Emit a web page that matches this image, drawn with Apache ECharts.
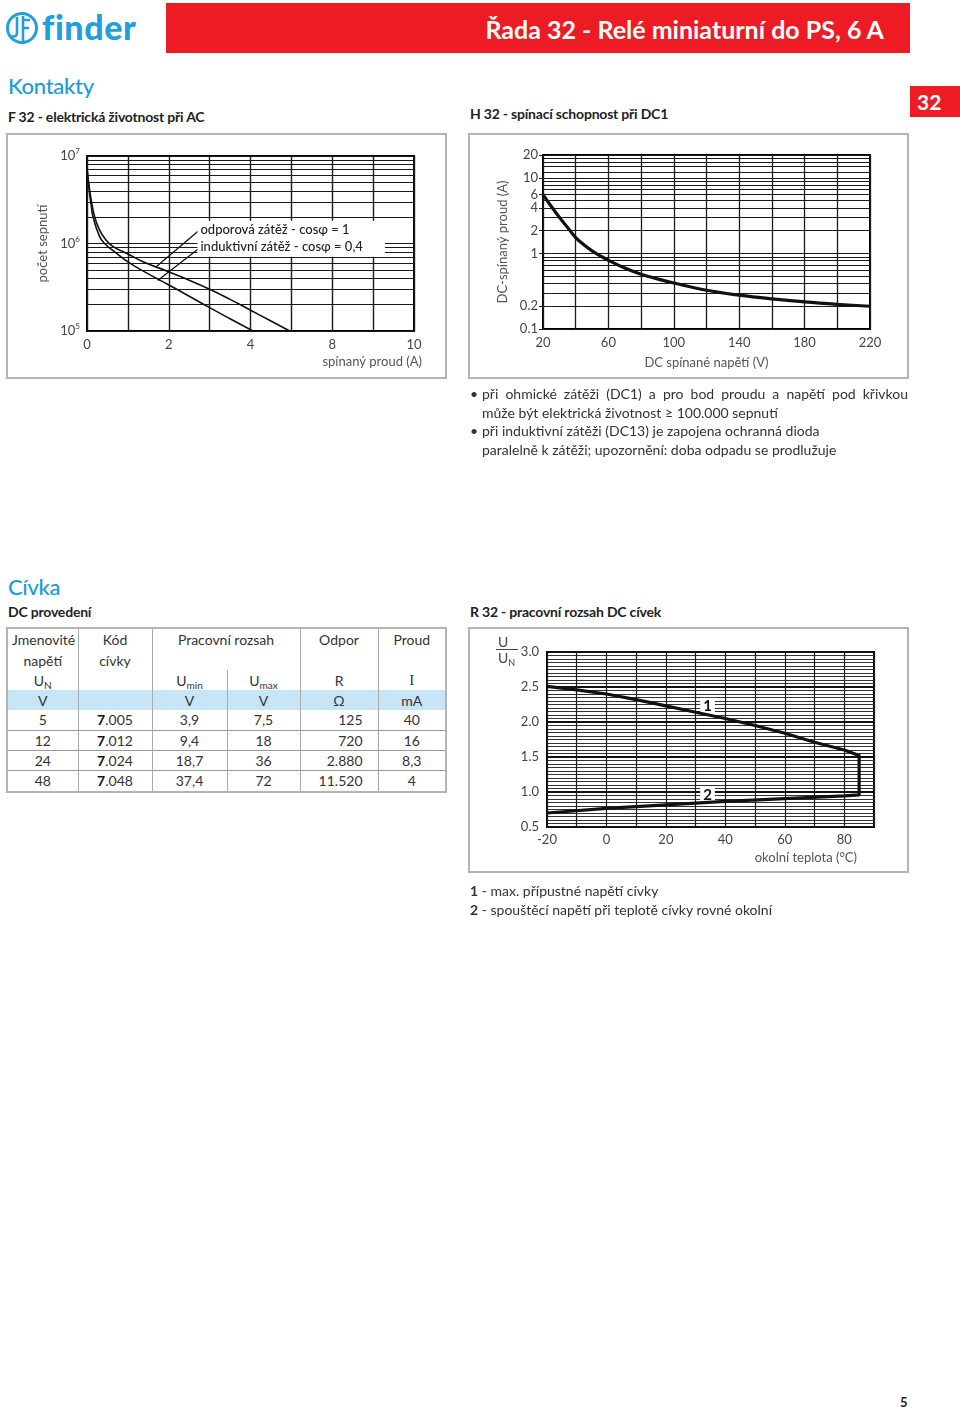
<!DOCTYPE html>
<html><head><meta charset="utf-8">
<script src="https://cdn.jsdelivr.net/npm/echarts@6/dist/echarts.min.js"></script>
<style>
html,body{margin:0;padding:0;background:#fff;}
body{width:960px;height:1409px;position:relative;overflow:hidden;font-family:Lato,"Noto Sans",sans-serif;color:#333;}
.abs{position:absolute;}
.box{position:absolute;border:2px solid #b4b4b4;box-sizing:border-box;pointer-events:none;}
.h2{position:absolute;font-size:22px;color:#1b9cd8;font-weight:500;letter-spacing:-0.3px;}
.h3{position:absolute;font-size:14px;font-weight:700;color:#222;letter-spacing:-0.2px;}
.chart{position:absolute;}
table{border-collapse:collapse;table-layout:fixed;font-size:14px;color:#333;}
td{padding:0;text-align:center;white-space:nowrap;overflow:visible;}
sub{font-size:10px;vertical-align:-3px;line-height:0;}
</style></head>
<body>
<!-- logo -->
<svg class="abs" style="left:5px;top:11px" width="34" height="34" viewBox="0 0 34 34">
 <circle cx="17" cy="17" r="14.5" fill="none" stroke="#1fa0dc" stroke-width="3"/>
 <path d="M12 6 V21 Q12 27 7 25" fill="none" stroke="#1fa0dc" stroke-width="2.6"/>
 <path d="M18 5 V30 M18 9 H25 M18 17 H24" fill="none" stroke="#1fa0dc" stroke-width="2.6"/>
</svg>
<div class="abs" style="left:42px;top:6px;font-size:34px;font-weight:900;color:#1fa0dc;letter-spacing:0.6px;">finder</div>
<!-- red header -->
<div class="abs" style="left:166px;top:3px;width:744px;height:50px;background:#ed1c24;"></div>
<div class="abs" style="left:166px;top:3px;width:718px;height:50px;line-height:52px;text-align:right;color:#fff;font-size:25px;font-weight:700;">Řada 32 - Relé miniaturní do PS, 6 A</div>
<div class="abs" style="left:910px;top:86px;width:50px;height:31px;background:#ed1c24;color:#fff;font-size:21px;font-weight:700;line-height:32px;text-indent:7px;">32</div>

<div class="h2" style="left:8px;top:72px;">Kontakty</div>
<div class="h3" style="left:8px;top:108px;">F 32 - elektrická životnost při AC</div>
<div class="h3" style="left:470px;top:105px;">H 32 - spínací schopnost při DC1</div>

<div id="f32" class="chart" style="left:6px;top:133px;width:441px;height:246px;"></div>
<div class="box" style="left:6px;top:133px;width:441px;height:246px;"></div>
<div id="h32" class="chart" style="left:468px;top:133px;width:441px;height:246px;"></div>
<div class="box" style="left:468px;top:133px;width:441px;height:246px;"></div>

<div class="abs" style="left:470px;top:385px;width:438px;font-size:14px;line-height:18.6px;color:#333;">
 <div style="text-align:justify;text-align-last:justify;"><span style="display:inline-block;width:12px;">•</span>při ohmické zátěži (DC1) a pro bod proudu a napětí pod křivkou</div>
 <div style="padding-left:12px;">může být elektrická životnost ≥ 100.000 sepnutí</div>
 <div><span style="display:inline-block;width:12px;">•</span>při induktivní zátěži (DC13) je zapojena ochranná dioda</div>
 <div style="padding-left:12px;">paralelně k zátěži; upozornění: doba odpadu se prodlužuje</div>
</div>

<div class="h2" style="left:8px;top:573px;">Cívka</div>
<div class="h3" style="left:8px;top:603px;">DC provedení</div>
<div class="h3" style="left:470px;top:603px;">R 32 - pracovní rozsah DC cívek</div>

<div id="tblwrap" class="abs" style="left:6px;top:627px;width:441px;height:166px;border:2px solid #b4b4b4;box-sizing:border-box;"></div>

<div id="r32" class="chart" style="left:468px;top:627px;width:441px;height:246px;"></div>
<div class="box" style="left:468px;top:627px;width:441px;height:246px;"></div>
<div class="abs" style="left:496px;top:634px;font-size:14px;color:#444;line-height:15px;text-align:left;">
 <div style="border-bottom:1px solid #444;width:20px;padding-left:2px;">U</div>
 <div style="padding-left:2px;">U<sub style="font-size:9px;">N</sub></div>
</div>

<div class="abs" style="left:470px;top:881px;font-size:14px;line-height:19px;color:#333;">
 <div><b>1</b> - max. přípustné napětí cívky</div>
 <div><b>2</b> - spouštěcí napětí při teplotě cívky rovné okolní</div>
</div>
<div class="abs" style="left:900px;top:1394px;font-size:13px;font-weight:700;color:#222;">5</div>

<script>
// ---------- DATA ----------
// F 32: x in grid units (tick labels as printed on the chart)
const fXTickLabels = ['0', '', '2', '', '4', '', '8', '', '10'];
const fResistive = [[0, 7.2e6], [0.05, 4.6e6], [0.1, 3.2e6], [0.19, 2.0e6], [0.3, 1.45e6], [0.45, 1.12e6], [0.64, 9.2e5], [1.0, 7.6e5], [1.4, 6.1e5], [1.98, 4.8e5], [2.5, 3.8e5], [3.0, 3.0e5], [3.5, 2.3e5], [3.98, 1.75e5], [4.5, 1.3e5], [4.96, 1.0e5]];
const fInductive = [[0, 7.2e6], [0.05, 4.2e6], [0.1, 2.8e6], [0.15, 2.0e6], [0.31, 1.2e6], [0.45, 9.8e5], [0.64, 8.3e5], [1.04, 6.0e5], [1.5, 4.5e5], [1.98, 3.4e5], [2.5, 2.5e5], [3.0, 1.85e5], [3.5, 1.38e5], [4.06, 1.0e5]];
const fMinorY = [2e5, 3e5, 4e5, 5e5, 6e5, 7e5, 8e5, 9e5, 2e6, 3e6, 4e6, 5e6, 6e6, 7e6, 8e6, 9e6];
const fLegend = ['odporová zátěž - cosφ = 1', 'induktivní zátěž - cosφ = 0,4'];

// H 32
const hCurve = [[20, 6.0], [25, 4.2], [30, 3.0], [35, 2.2], [40, 1.62], [45, 1.3], [50, 1.08], [55, 0.93], [60, 0.81], [70, 0.64], [80, 0.53], [90, 0.46], [100, 0.405], [120, 0.325], [140, 0.28], [160, 0.25], [180, 0.228], [200, 0.212], [220, 0.2]];
const hYTickLabels = [0.1, 0.2, 1, 2, 4, 6, 10, 20];
const hXTickLabels = [20, 60, 100, 140, 180, 220];
const hMinorY = [0.2, 0.3, 0.4, 0.5, 0.6, 0.7, 0.8, 0.9, 2, 3, 4, 5, 6, 7, 8, 9, 12, 14, 16, 18];

// R 32
const rCurve = [[-20, 2.51], [-10, 2.46], [0, 2.40], [10, 2.32], [20, 2.23], [30, 2.14], [40, 2.05], [50, 1.95], [60, 1.84], [70, 1.71], [80, 1.60], [85, 1.52], [85, 0.96], [80, 0.945], [60, 0.905], [40, 0.865], [20, 0.815], [0, 0.765], [-20, 0.70]];
const rXTickLabels = [-20, 0, 20, 40, 60, 80];
const rCurveLabels = [['1', 34, 2.23], ['2', 34, 0.96]];

// Table
const tableRows = [
  ['5', '7.005', '3,9', '7,5', '125', '40'],
  ['12', '7.012', '9,4', '18', '720', '16'],
  ['24', '7.024', '18,7', '36', '2.880', '8,3'],
  ['48', '7.048', '37,4', '72', '11.520', '4']
];

// ---------- RENDER ----------
const FF = 'Lato, "Noto Sans", sans-serif';
const base = {fontFamily: FF};

// F32
(function () {
  const c = echarts.init(document.getElementById('f32'));
  c.setOption({
    animation: false,
    textStyle: base,
    grid: {left: 81, top: 23, width: 327, height: 175, show: true, borderColor: '#000', borderWidth: 2, backgroundColor: 'transparent', outerBoundsMode: 'none'},
    xAxis: {
      type: 'value', min: 0, max: 8, interval: 1,
      axisLine: {show: false}, axisTick: {show: false},
      splitLine: {show: true, lineStyle: {color: '#1a1a1a', width: 1.4}},
      axisLabel: {formatter: v => fXTickLabels[Math.round(v)] || '', margin: 7.5, color: '#444', fontSize: 13, fontFamily: FF, showMinLabel: true, showMaxLabel: true, hideOverlap: false},
      name: 'spínaný proud (A)', nameLocation: 'end', nameGap: 8,
      nameTextStyle: {align: 'right', verticalAlign: 'top', padding: [24, 0, 0, 0], color: '#555', fontSize: 13, fontFamily: FF}
    },
    yAxis: {
      type: 'log', logBase: 10, min: 1e5, max: 1e7,
      axisLine: {show: false}, axisTick: {show: false},
      splitLine: {show: true, lineStyle: {color: '#1a1a1a', width: 1}},
      axisLabel: {
        margin: 7, color: '#444', fontSize: 13, fontFamily: FF,
        formatter: v => '10{s|' + Math.round(Math.log10(v)) + '}',
        rich: {s: {fontSize: 8, padding: [0, 0, 9, 0], color: '#444', fontFamily: FF}}
      },
      name: 'počet sepnutí', nameLocation: 'middle', nameRotate: 90, nameGap: 38,
      nameTextStyle: {color: '#555', fontSize: 13, fontFamily: FF}
    },
    series: [
      {type: 'line', data: [], z: 1, silent: true,
        markLine: {silent: true, symbol: ['none', 'none'], label: {show: false}, animation: false,
          lineStyle: {type: 'solid', color: '#1a1a1a', width: 1}, emphasis: {disabled: true},
          data: fMinorY.map(v => ({yAxis: v}))}},
      {type: 'line', name: fLegend[0], data: fResistive, smooth: 0.5, symbol: 'none', z: 5,
        lineStyle: {color: '#111', width: 1.6}},
      {type: 'line', name: fLegend[1], data: fInductive, smooth: 0.5, symbol: 'none', z: 5,
        lineStyle: {color: '#111', width: 1.6},
        markLine: {silent: true, symbol: ['none', 'arrow'], symbolSize: [0, 9], label: {show: false}, animation: false,
          lineStyle: {type: 'solid', color: '#111', width: 1.3}, emphasis: {disabled: true},
          data: [
            [{coord: [2.76, 1.44e6]}, {coord: [1.70, 5.45e5]}],
            [{coord: [2.76, 8.96e5]}, {coord: [1.73, 3.77e5]}]
          ]}},
      {type: 'line', data: [], z: 6, silent: true,
        markPoint: {silent: true, animation: false, symbol: 'rect', symbolSize: 1, itemStyle: {color: 'rgba(0,0,0,0)'},
          data: [{coord: [2.69, 1.135e6],
            label: {show: true, position: 'right', distance: 0, formatter: fLegend.join('\n'),
              backgroundColor: '#fff', padding: [1, 22, 1, 3], lineHeight: 17, fontSize: 13, fontWeight: 500, color: '#222', fontFamily: FF}}]}}
    ]
  });
})();

// H32
(function () {
  const c = echarts.init(document.getElementById('h32'));
  c.setOption({
    animation: false,
    textStyle: base,
    grid: {left: 75, top: 22, width: 327, height: 174, show: true, borderColor: '#000', borderWidth: 2, backgroundColor: 'transparent', outerBoundsMode: 'none'},
    xAxis: {
      type: 'value', min: 20, max: 220, interval: 20,
      axisLine: {show: false}, axisTick: {show: false},
      splitLine: {show: true, lineStyle: {color: '#1a1a1a', width: 1.3}},
      axisLabel: {customValues: hXTickLabels, margin: 7.5, color: '#444', fontSize: 13, fontFamily: FF, hideOverlap: false},
      name: 'DC spínané napětí (V)', nameLocation: 'middle', nameGap: 27,
      nameTextStyle: {color: '#555', fontSize: 13, fontFamily: FF}
    },
    yAxis: {
      type: 'log', logBase: 10, min: 0.1, max: 20,
      axisLine: {show: false},
      axisTick: {show: true, customValues: hYTickLabels, inside: false, length: 4, lineStyle: {color: '#222'}},
      splitLine: {show: true, lineStyle: {color: '#1a1a1a', width: 1}},
      axisLabel: {customValues: hYTickLabels, margin: 5, color: '#444', fontSize: 13, fontFamily: FF, hideOverlap: false,
        formatter: v => String(v)},
      name: 'DC-spínaný proud (A)', nameLocation: 'middle', nameRotate: 90, nameGap: 33,
      nameTextStyle: {color: '#555', fontSize: 13, fontFamily: FF}
    },
    series: [
      {type: 'line', data: [], z: 1, silent: true,
        markLine: {silent: true, symbol: ['none', 'none'], label: {show: false}, animation: false,
          lineStyle: {type: 'solid', color: '#1a1a1a', width: 1}, emphasis: {disabled: true},
          data: hMinorY.map(v => ({yAxis: v}))}},
      {type: 'line', data: hCurve, smooth: 0.4, symbol: 'none', z: 5, lineStyle: {color: '#111', width: 3.2}}
    ]
  });
})();

// R32
(function () {
  const c = echarts.init(document.getElementById('r32'));
  c.setOption({
    animation: false,
    textStyle: base,
    grid: {left: 79, top: 25, width: 327, height: 175, show: true, borderColor: '#000', borderWidth: 2, backgroundColor: 'transparent', outerBoundsMode: 'none'},
    xAxis: {
      type: 'value', min: -20, max: 90, interval: 10,
      axisLine: {show: false}, axisTick: {show: false},
      splitLine: {show: true, lineStyle: {color: '#1a1a1a', width: 1.2}},
      axisLabel: {customValues: rXTickLabels, margin: 6.5, color: '#444', fontSize: 13, fontFamily: FF, hideOverlap: false},
      name: 'okolní teplota (°C)', nameLocation: 'end', nameGap: -17,
      nameTextStyle: {align: 'right', verticalAlign: 'top', padding: [24, 0, 0, 0], color: '#555', fontSize: 13, fontFamily: FF}
    },
    yAxis: {
      type: 'value', min: 0.5, max: 3.0, interval: 0.5,
      axisLine: {show: false}, axisTick: {show: false},
      splitLine: {show: true, lineStyle: {color: '#111', width: 2}},
      minorTick: {show: false, splitNumber: 10},
      minorSplitLine: {show: true, lineStyle: {color: '#333', width: 1}},
      axisLabel: {margin: 8, color: '#444', fontSize: 13, fontFamily: FF, formatter: v => v.toFixed(1), hideOverlap: false}
    },
    series: [
      {type: 'line', data: rCurve, smooth: false, symbol: 'none', z: 5, lineStyle: {color: '#111', width: 3.2, join: 'round'},
        markPoint: {silent: true, animation: false, symbol: 'rect', symbolSize: 1, itemStyle: {color: 'rgba(0,0,0,0)'},
          data: rCurveLabels.map(d => ({coord: [d[1], d[2]],
            label: {show: true, position: 'inside', formatter: d[0], backgroundColor: '#fff', padding: [0, 3, 0, 3],
              fontSize: 15, fontWeight: 700, color: '#111', fontFamily: FF, lineHeight: 16}}))}}
    ]
  });
})();

// Table
(function () {
  const colW = [70, 74, 75, 73, 78, 67];
  const rowH = [21, 20, 20, 20, 20, 20, 20, 21];
  const bl = 'border-left:1px solid #aaa;';
  let h = '<table style="width:437px;"><colgroup>' + colW.map(w => '<col style="width:' + w + 'px">').join('') + '</colgroup>';
  const tr = (i, cells) => '<tr style="height:' + rowH[i] + 'px;">' + cells + '</tr>';
  h += tr(0, '<td style="text-align:left;padding-left:4px;">Jmenovité</td><td style="' + bl + '">Kód</td><td colspan="2" style="' + bl + '">Pracovní rozsah</td><td style="' + bl + '">Odpor</td><td style="' + bl + '">Proud</td>');
  h += tr(1, '<td>napětí</td><td style="' + bl + '">cívky</td><td colspan="2" style="' + bl + '"></td><td style="' + bl + '"></td><td style="' + bl + '"></td>');
  h += tr(2, '<td>U<sub>N</sub></td><td style="' + bl + '"></td><td style="' + bl + '">U<sub>min</sub></td><td style="' + bl + '">U<sub>max</sub></td><td style="' + bl + '">R</td><td style="' + bl + 'font-family:\'Liberation Serif\',serif;font-size:15px;">I</td>');
  h += '<tr style="height:' + rowH[3] + 'px;background:#c6e6f7;"><td>V</td><td style="' + bl + '"></td><td style="' + bl + '">V</td><td style="' + bl + '">V</td><td style="' + bl + '">Ω</td><td style="' + bl + '">mA</td></tr>';
  tableRows.forEach((r, k) => {
    const bt = k > 0 ? 'border-top:1px solid #999;' : '';
    const code = '<b style="font-weight:700;color:#111;">' + r[1].split('.')[0] + '</b>.' + r[1].split('.')[1];
    const cells = '<td style="' + bt + '">' + r[0] + '</td>' +
      '<td style="' + bt + bl + '">' + code + '</td>' +
      '<td style="' + bt + bl + '">' + r[2] + '</td>' +
      '<td style="' + bt + bl + '">' + r[3] + '</td>' +
      '<td style="' + bt + bl + 'text-align:right;padding-right:15px;">' + r[4] + '</td>' +
      '<td style="' + bt + bl + '">' + r[5] + '</td>';
    h += tr(4 + k, cells);
  });
  h += '</table>';
  document.getElementById('tblwrap').innerHTML = h;
})();
</script>
</body></html>
